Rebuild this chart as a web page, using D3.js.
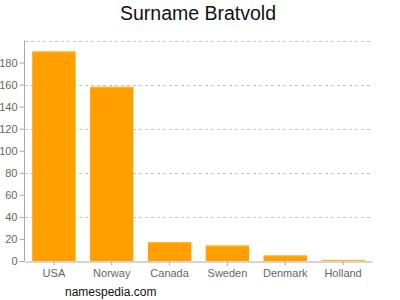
<!DOCTYPE html>
<html>
<head>
<meta charset="utf-8">
<script src="https://cdn.jsdelivr.net/npm/d3@7"></script>
<style>
  body { margin: 0; background: #fff; }
  text { font-family: "Liberation Sans", Arial, sans-serif; }
</style>
</head>
<body>
<div class="chart"></div>
<script>
// data
var countries = ["USA", "Norway", "Canada", "Sweden", "Denmark", "Holland"];
var counts = [190, 158, 17, 14, 5, 1];
var yTicks = [0, 20, 40, 60, 80, 100, 120, 140, 160, 180];
var gridTicks = [40, 80, 120, 160, 200];

var width = 400, height = 300;
var margin = {top: 40.5, right: 28, bottom: 39, left: 25};

var svg = d3.select(".chart").append("svg")
  .attr("width", width)
  .attr("height", height);

var x = d3.scaleBand()
  .domain(countries)
  .range([margin.left, width - margin.right])
  .paddingInner(0.25)
  .paddingOuter(0.125);

var y = d3.scaleLinear()
  .domain([0, 200])
  .range([height - margin.bottom, margin.top]);

// dashed grid
svg.append("g")
  .selectAll("line")
  .data(gridTicks)
  .enter().append("line")
  .attr("x1", margin.left)
  .attr("x2", width - margin.right)
  .attr("y1", function (d) { return Math.round(y(d)) + 0.5; })
  .attr("y2", function (d) { return Math.round(y(d)) + 0.5; })
  .attr("stroke", "#c4c4c4")
  .attr("stroke-dasharray", "3,3");

// bars
svg.append("g")
  .selectAll("rect")
  .data(counts)
  .enter().append("rect")
  .attr("x", function (d, i) { return x(countries[i]); })
  .attr("width", x.bandwidth())
  .attr("y", function (d) { return y(d); })
  .attr("height", function (d) { return y(0) - y(d); })
  .attr("fill", "#ffa000");

// lighter top edge on each bar
svg.append("g")
  .selectAll("line")
  .data(counts)
  .enter().append("line")
  .attr("x1", function (d, i) { return x(countries[i]); })
  .attr("x2", function (d, i) { return x(countries[i]) + x.bandwidth(); })
  .attr("y1", function (d) { return y(d) + 0.5; })
  .attr("y2", function (d) { return y(d) + 0.5; })
  .attr("stroke", "#ffb733");

// y axis
var yAxis = svg.append("g")
  .attr("transform", "translate(" + (margin.left - 0.5) + ",0)")
  .call(d3.axisLeft(y).tickValues(yTicks).tickSize(5).tickPadding(2).tickSizeOuter(0));

// x axis
var xAxis = svg.append("g")
  .attr("transform", "translate(0," + (y(0) + 0.5) + ")")
  .call(d3.axisBottom(x).tickSize(4).tickPadding(4).tickSizeOuter(0));

[yAxis, xAxis].forEach(function (a) {
  a.select(".domain").attr("stroke", "#aaa");
  a.selectAll(".tick line").attr("stroke", "#aaa");
  a.selectAll(".tick text")
    .attr("fill", "#666")
    .style("font-size", "11px")
    .style("font-family", "Liberation Sans, Arial, sans-serif");
});

// extend y axis line up to the top grid line
yAxis.select(".domain").attr("d", "M0," + y(200) + "V" + (y(0) + 0.5));

// title
svg.append("text")
  .attr("x", 198)
  .attr("y", 20)
  .attr("text-anchor", "middle")
  .attr("fill", "#111")
  .style("font-size", "19.5px")
  .text("Surname Bratvold");

// footer
svg.append("text")
  .attr("x", 65)
  .attr("y", 296)
  .attr("fill", "#111")
  .style("font-size", "12px")
  .text("namespedia.com");
</script>
</body>
</html>
